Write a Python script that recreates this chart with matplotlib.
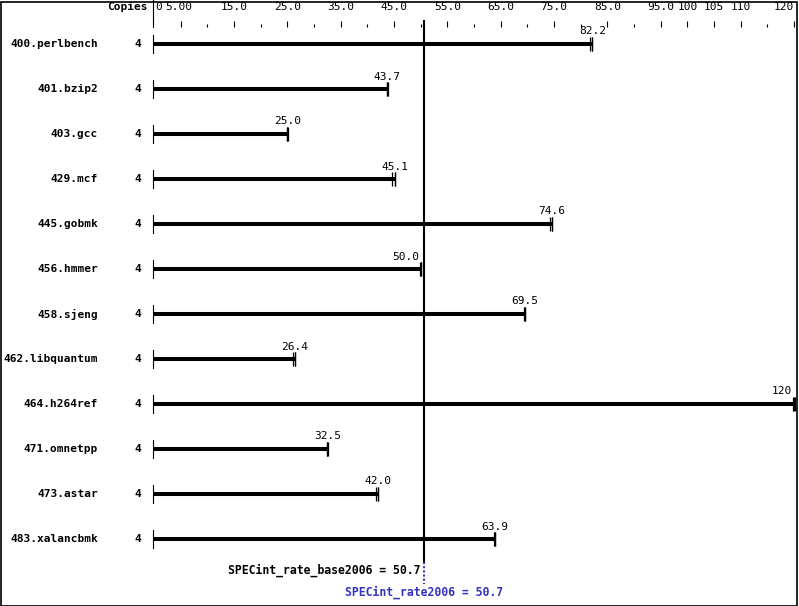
import matplotlib
matplotlib.use("Agg")
import matplotlib.pyplot as plt
from matplotlib.patches import Rectangle

plt.rcParams['font.family'] = ['DejaVu Sans Mono']

# chart data
benchmarks = ['400.perlbench', '401.bzip2', '403.gcc', '429.mcf', '445.gobmk', '456.hmmer',
              '458.sjeng', '462.libquantum', '464.h264ref', '471.omnetpp', '473.astar',
              '483.xalancbmk']
copies = [4, 4, 4, 4, 4, 4, 4, 4, 4, 4, 4, 4]
base_ratio = [82.2, 43.7, 25.0, 45.1, 74.6, 50.0, 69.5, 26.4, 120, 32.5, 42.0, 63.9]
# individual run ratios (ticks at bar end)
run_ratios = [
    [81.8, 82.2, 82.2],
    [43.6, 43.7, 43.8],
    [24.9, 25.0, 25.1],
    [44.7, 45.1, 45.1],
    [74.2, 74.6, 74.6],
    [49.9, 50.0, 50.1],
    [69.4, 69.5, 69.6],
    [26.0, 26.4, 26.4],
    [119.9, 120, 120.1],
    [32.4, 32.5, 32.6],
    [41.6, 42.0, 42.0],
    [63.8, 63.9, 64.0],
]
major_ticks = [0, 5, 15, 25, 35, 45, 55, 65, 75, 85, 95, 100, 105, 110, 120]
minor_ticks = [10, 20, 30, 40, 50, 60, 70, 80, 90, 115]
base_score = 50.7
peak_score = 50.7

W, H = 799, 606
PX = 640 / 120.0     # pixels per ratio unit
X0 = 154             # pixel of ratio 0
ROW0, STEP = 44, 45  # pixel of first row, row spacing


def py(p):
    # pixel row -> data y
    return (p - ROW0) / float(STEP)


def fmt(v):
    if v == 0:
        return '0'
    if v < 10:
        return '%.2f' % v
    if v < 100:
        return '%.1f' % v
    return '%.0f' % v


fig = plt.figure(figsize=(W / 100.0, H / 100.0), dpi=100)
ax = fig.add_axes([0, 0, 1, 1])
ax.set_xlim(-X0 / PX, (W - X0) / PX)
ax.set_ylim(py(H), py(0))
ax.axis('off')

fs = 8
blue = '#3333bb'

# top scale
ax.plot([-0.2, -0.2], [py(0), py(27)], color='black', lw=0.8)
ax.vlines(major_ticks[1:], py(21), py(27), color='black', lw=0.8)
ax.vlines(minor_ticks, py(23.5), py(27), color='black', lw=0.8)
for t in major_ticks:
    ha = 'center'
    dx = 0
    if t == major_ticks[0]:
        ha, dx = 'left', 0.3
    elif t == major_ticks[-1]:
        ha = 'right'
    elif t == major_ticks[1]:
        dx = -0.3
    ax.text(t + dx, py(7), fmt(t), ha=ha, va='center', fontsize=fs, color='black')
ax.text(-1.2, py(7), 'Copies', ha='right', va='center', fontsize=fs, fontweight='bold')

# bars
for i, name in enumerate(benchmarks):
    ax.text(-10.5, i, name, ha='right', va='center', fontsize=fs, fontweight='bold')
    ax.text(-3.0, i, str(copies[i]), ha='center', va='center', fontsize=fs, fontweight='bold')
    ax.plot([-0.2, -0.2], [i - 9 / STEP, i + 9 / STEP], color='black', lw=0.8)
    ax.plot([0, base_ratio[i]], [i, i], color='black', lw=2.9, solid_capstyle='butt')
    ax.vlines(run_ratios[i], i - 7 / STEP, i + 7 / STEP, color='black', lw=0.9)
    v = base_ratio[i]
    lab = fmt(v)
    half = len(lab) * 3.3 / PX
    if (v - half < base_score < v + half + 1) or v + half > ax.get_xlim()[1] - 1:
        ax.text(v - 0.3, i - 12.5 / STEP, lab, ha='right', va='center', fontsize=fs)
    else:
        ax.text(v, i - 12.5 / STEP, lab, ha='center', va='center', fontsize=fs)

# overall score lines
ax.plot([base_score, base_score], [py(21), py(562)], color='black', lw=1.5)
ax.plot([peak_score, peak_score], [py(562), py(584)], color=blue, lw=1.5, ls=(0, (1, 1)))
ax.text(base_score - 0.7, py(570), 'SPECint_rate_base2006 = %.1f' % base_score,
        ha='right', va='center', fontsize=8.3, fontweight='bold', color='black')
ax.text(peak_score, py(592), 'SPECint_rate2006 = %.1f' % peak_score,
        ha='center', va='center', fontsize=8.3, fontweight='bold', color=blue)

# frame around picture
fig.patches.append(Rectangle((0.5 / W, 0.5 / H), 1 - 2.5 / W, 1 - 2.5 / H,
                             transform=fig.transFigure, fill=False, edgecolor='black', lw=1.2))

fig.savefig('out.png', dpi=100)
